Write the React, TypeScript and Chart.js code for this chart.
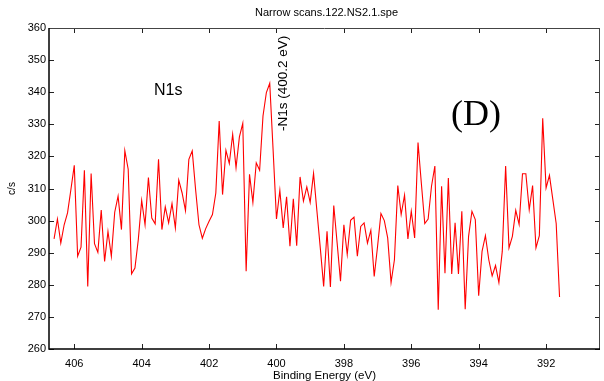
import React, { useEffect, useRef } from "react";
import { Chart, registerables } from "chart.js";

Chart.register(...registerables);

// Binding energy grid of the scan (eV), decreasing
const START_ENERGY = 406.6;
const ENERGY_STEP = 0.1;

// Intensity values (c/s), from 406.6 eV down to 391.6 eV
const counts: number[] = [
  294.3, 300.5, 293.0, 298.7, 302.4, 309.7, 317.2, 288.9, 291.7, 315.7,
  279.5, 314.7, 292.8, 290.1, 303.3, 287.3, 296.6, 288.9, 302.6, 307.6,
  297.2, 321.8, 316.0, 283.4, 285.2, 294.1, 306.3, 298.7, 313.4, 300.8,
  299.0, 319.1, 297.2, 304.3, 299.3, 305.3, 297.7, 312.6, 308.6, 303.1,
  319.1, 321.7, 309.7, 298.7, 294.5, 297.5, 299.8, 301.9, 308.6, 331.0,
  308.1, 321.9, 317.8, 326.9, 316.5, 326.1, 330.3, 284.2, 314.4, 305.7,
  318.0, 315.7, 332.6, 339.9, 342.8, 322.0, 300.5, 309.4, 297.7, 307.4,
  292.0, 306.8, 292.2, 313.6, 306.1, 310.5, 305.7, 314.7, 303.0, 291.5,
  279.5, 296.7, 279.3, 304.7, 293.0, 281.1, 298.7, 289.4, 300.1, 301.1,
  288.9, 298.2, 299.3, 293.0, 297.0, 282.6, 292.0, 302.2, 300.0, 294.6,
  280.7, 287.8, 310.9, 301.9, 307.9, 294.3, 302.9, 294.6, 324.3, 311.5,
  299.1, 300.5, 310.7, 317.0, 272.2, 310.7, 283.6, 313.3, 283.4, 299.3,
  283.4, 302.9, 272.4, 295.1, 302.9, 300.3, 276.6, 290.4, 295.3, 287.8,
  282.8, 286.0, 280.7, 290.4, 317.0, 291.5, 295.1, 303.2, 298.8, 314.6,
  314.6, 303.4, 310.9, 291.5, 295.3, 331.9, 310.2, 314.1, 306.6, 299.1,
  276.2,
];

const xTicks: number[] = [392, 394, 396, 398, 400, 402, 404, 406];
const yTicks: number[] = [260, 270, 280, 290, 300, 310, 320, 330, 340, 350, 360];

const X_MIN = 390.4;
const X_MAX = 406.75;
const Y_MIN = 260;
const Y_MAX = 360;

const chartTitle = "Narrow scans.122.NS2.1.spe";
const xTitle = "Binding Energy (eV)";
const yTitle = "c/s";
const peakLabel = "N1s";
const peakMarker = "-N1s (400.2 eV)";
const panelLabel = "(D)";

const SANS = "'Liberation Sans', Arial, Helvetica, sans-serif";
const SERIF = "'Liberation Serif', 'Times New Roman', serif";

const decorPlugin = {
  id: "decor",
  afterDatasetsDraw(chart: any) {
    const ctx = chart.ctx as CanvasRenderingContext2D;
    const { left, right, top, bottom } = chart.chartArea;
    const xs = chart.scales.x;
    const ys = chart.scales.y;
    const TL = 5;
    ctx.save();
    // inward ticks
    ctx.strokeStyle = "#222";
    ctx.lineWidth = 1;
    ctx.beginPath();
    for (const v of xTicks) {
      const px = Math.round(xs.getPixelForValue(v)) + 0.5;
      ctx.moveTo(px, bottom);
      ctx.lineTo(px, bottom - TL);
      ctx.moveTo(px, top);
      ctx.lineTo(px, top + TL);
    }
    for (const v of yTicks) {
      const py = Math.round(ys.getPixelForValue(v)) + 0.5;
      ctx.moveTo(left, py);
      ctx.lineTo(left + TL, py);
      ctx.moveTo(right, py);
      ctx.lineTo(right - TL, py);
    }
    ctx.stroke();
    // box
    ctx.strokeStyle = "#444";
    ctx.lineWidth = 1;
    ctx.beginPath();
    ctx.moveTo(left, top + 0.5);
    ctx.lineTo(right, top + 0.5);
    ctx.moveTo(right - 0.5, top);
    ctx.lineTo(right - 0.5, bottom);
    ctx.stroke();
    ctx.strokeStyle = "#000";
    ctx.lineWidth = 1.5;
    ctx.beginPath();
    ctx.moveTo(left, top);
    ctx.lineTo(left, bottom);
    ctx.lineTo(right, bottom);
    ctx.stroke();

    // title
    ctx.fillStyle = "#000";
    ctx.font = `11px ${SANS}`;
    ctx.textAlign = "center";
    ctx.textBaseline = "middle";
    ctx.fillText(chartTitle, (left + right) / 2 + 2, 13);

    // N1s label
    ctx.font = `16px ${SANS}`;
    ctx.textAlign = "left";
    ctx.textBaseline = "alphabetic";
    ctx.fillText(peakLabel, 154, 95);

    // panel label
    ctx.font = `36px ${SERIF}`;
    ctx.fillText(panelLabel, 451, 125);

    // rotated peak marker
    ctx.save();
    ctx.translate(287, 131);
    ctx.rotate(-Math.PI / 2);
    ctx.font = `13.5px ${SANS}`;
    ctx.textAlign = "left";
    ctx.textBaseline = "alphabetic";
    ctx.fillText(peakMarker, 0, 0);
    ctx.restore();

    ctx.restore();
  },
};

export default function App() {
  const canvasRef = useRef<HTMLCanvasElement | null>(null);

  useEffect(() => {
    const canvas = canvasRef.current;
    if (!canvas) return;
    const points = counts.map((c, i) => ({ x: START_ENERGY - i * ENERGY_STEP, y: c }));
    const chart = new Chart(canvas, {
      type: "line",
      data: {
        datasets: [
          {
            data: points,
            borderColor: "#ff0000",
            borderWidth: 1.1,
            pointRadius: 0,
            tension: 0,
            fill: false,
          },
        ],
      },
      options: {
        animation: false,
        responsive: false,
        devicePixelRatio: 1,
        layout: { padding: { top: 28, right: 4, left: 0, bottom: 0 } },
        plugins: {
          legend: { display: false },
          title: { display: false },
          tooltip: { enabled: false },
        },
        scales: {
          x: {
            type: "linear",
            reverse: true,
            min: X_MIN,
            max: X_MAX,
            afterBuildTicks: (scale: any) => {
              scale.ticks = xTicks.map((v) => ({ value: v }));
            },
            afterFit: (scale: any) => {
              scale.height = 32;
            },
            grid: { display: false, drawTicks: false, tickLength: 0 },
            border: { display: false },
            ticks: {
              color: "#000",
              font: { family: SANS, size: 11 },
              padding: 8,
              maxRotation: 0,
              autoSkip: false,
              callback: (v: any) => String(v),
            },
            title: {
              display: true,
              text: xTitle,
              color: "#000",
              font: { family: SANS, size: 11.5 },
              padding: { top: 0, bottom: -2 },
            },
          },
          y: {
            type: "linear",
            min: Y_MIN,
            max: Y_MAX,
            afterBuildTicks: (scale: any) => {
              scale.ticks = yTicks.map((v) => ({ value: v }));
            },
            afterFit: (scale: any) => {
              scale.width = 49;
            },
            grid: { display: false, drawTicks: false, tickLength: 0 },
            border: { display: false },
            ticks: {
              color: "#000",
              font: { family: SANS, size: 11 },
              padding: 3,
              autoSkip: false,
              callback: (v: any) => String(v),
            },
            title: {
              display: true,
              text: yTitle,
              color: "#000",
              font: { family: SANS, size: 10 },
              padding: { top: 6, bottom: 0 },
            },
          },
        },
      },
      plugins: [decorPlugin],
    });
    return () => chart.destroy();
  }, []);

  return (
    <div style={{ position: "absolute", left: 0, top: 0, width: 604, height: 381, background: "#fff" }}>
      <canvas ref={canvasRef} width={604} height={381} style={{ display: "block", width: 604, height: 381 }} />
    </div>
  );
}
